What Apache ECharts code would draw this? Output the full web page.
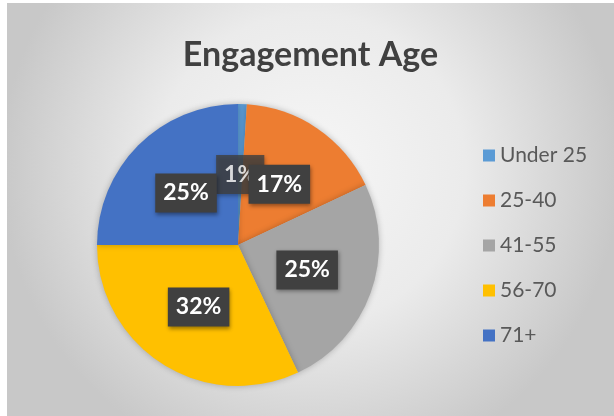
<!DOCTYPE html>
<html><head><meta charset="utf-8">
<script src="https://cdn.jsdelivr.net/npm/echarts@6/dist/echarts.min.js"></script>
<style>html,body{margin:0;padding:0;background:#ffffff;}#c{position:absolute;left:7px;top:3px;width:607px;height:413px;}</style>
</head><body><div id="c"></div>
<script>
const categories = ['Under 25', '25-40', '41-55', '56-70', '71+'];
const values = [1, 17, 25, 32, 25];
const colors = ['#5B9BD5', '#ED7D31', '#A5A5A5', '#FFC000', '#4472C4'];

const total = values.reduce((a, b) => a + b, 0);
let acc = 0;
const mids = values.map(v => { const m = acc + v / 2; acc += v; return m; });

const labelStyle = {
  fontFamily: 'Lato', fontWeight: 'bold', fontSize: 23, color: '#ffffff',
  backgroundColor: '#404040', padding: [9, 8, 7, 8],
  shadowBlur: 4, shadowColor: 'rgba(0,0,0,0.4)', shadowOffsetX: 1, shadowOffsetY: 2
};

const CX = 231, CY = 242, R = 141;

const chart = echarts.init(document.getElementById('c'));
chart.setOption({
  backgroundColor: {
    type: 'radial', x: 0.5, y: 0.4, r: 0.75,
    colorStops: [{offset: 0, color: '#f6f6f6'}, {offset: 0.5, color: '#ebebeb'}, {offset: 1, color: '#c8c8c8'}]
  },
  title: {
    text: 'Engagement Age', left: 'center', top: 30,
    textStyle: {fontFamily: 'Lato', fontWeight: 'bold', fontSize: 34, color: '#404040'}
  },
  color: colors,
  legend: {
    orient: 'vertical', left: 471, top: 137,
    itemWidth: 12, itemHeight: 12, itemGap: 24, icon: 'rect',
    textStyle: {fontFamily: 'Lato', fontSize: 21, color: '#595959', lineHeight: 21},
    data: categories
  },
  polar: {center: [CX, CY], radius: R},
  angleAxis: {type: 'value', min: 0, max: total, startAngle: 90, clockwise: true, show: false},
  radiusAxis: {type: 'value', min: 0, max: 1, show: false},
  series: [{
    name: 'slices',
    type: 'pie', z: 2, center: [CX, CY], radius: R, startAngle: 90,
    itemStyle: {borderWidth: 0, shadowBlur: 6, shadowColor: 'rgba(0,0,0,0.25)'},
    label: {show: false}, labelLine: {show: false},
    emphasis: {disabled: true},
    data: categories.map((n, i) => ({name: n, value: values[i]}))
  }, {
    type: 'scatter', z: 3, coordinateSystem: 'polar', silent: true,
    symbolSize: 1, itemStyle: {color: 'rgba(0,0,0,0)'},
    label: Object.assign({show: true, position: 'inside', formatter: p => values[p.dataIndex] + '%'}, labelStyle),
    data: [[0.5, mids[0]]]
  }, {
    name: 'labels',
    type: 'pie', z: 4, center: [CX, CY], radius: R, startAngle: 90, silent: true,
    legendHoverLink: false,
    avoidLabelOverlap: false,
    itemStyle: {color: 'rgba(0,0,0,0)', borderWidth: 0},
    label: Object.assign({show: true, position: 'inside', formatter: '{c}%'}, labelStyle),
    labelLine: {show: false},
    emphasis: {disabled: true},
    data: categories.map((n, i) => ({name: n + ' ', value: values[i], label: {show: i !== 0}}))
  }]
});
</script></body></html>
